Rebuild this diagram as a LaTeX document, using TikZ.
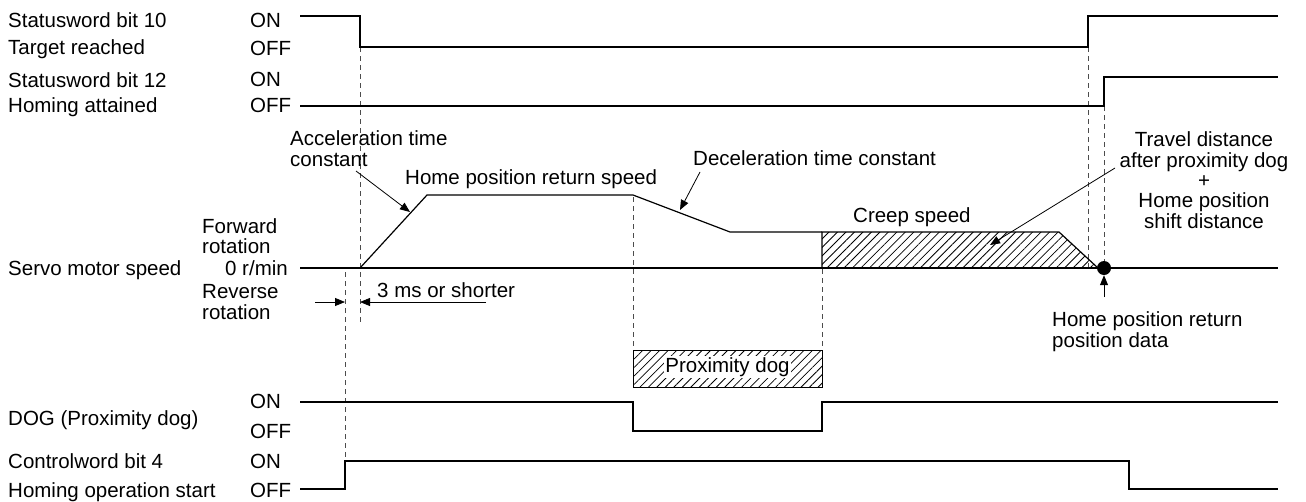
\documentclass[tikz,border=0pt]{standalone}
\usepackage{fontspec}
\setmainfont{Liberation Sans}
\usetikzlibrary{arrows.meta,patterns.meta}

\begin{document}
\begin{tikzpicture}[x=1pt,y=-1pt,
          every node/.style={inner sep=0pt,font=\fontsize{20.5}{20.3}\selectfont},
          lbl/.style={anchor=base west},
          sig/.style={line width=1.2pt,line join=miter},
          guide/.style={line width=0.8pt,dash pattern=on 5pt off 4pt,black!70},
          pointer/.style={-{Triangle[length=10pt,width=8pt]},line width=0.8pt},
          hatch/.style={pattern={Lines[angle=45,distance=6pt,line width=0.8pt]}}
      ]
        \useasboundingbox (0,0) rectangle (1306,501);
        % signal names
        \node[lbl] (sw10) at (8,27)  {Statusword bit 10};
        \node[lbl] (trg)  at (8,54)  {Target reached};
        \node[lbl] (sw12) at (8,87)  {Statusword bit 12};
        \node[lbl] (hatt) at (8,112) {Homing attained};
        \node[lbl] (spd)  at (8,275) {Servo motor speed};
        \node[lbl] (dog)  at (8,425) {DOG (Proximity dog)};
        \node[lbl] (cw4)  at (8,468) {Controlword bit 4};
        \node[lbl] (hos)  at (8,497) {Homing operation start};
        % levels
        \node[lbl] (on1)  at (250,27)  {ON};
        \node[lbl] (off1) at (250,55)  {OFF};
        \node[lbl] (on2)  at (250,86)  {ON};
        \node[lbl] (off2) at (250,112) {OFF};
        \node[lbl] (on3)  at (250,408) {ON};
        \node[lbl] (off3) at (250,438) {OFF};
        \node[lbl] (on4)  at (250,468) {ON};
        \node[lbl] (off4) at (250,497) {OFF};
        \node[lbl] (fwd)  at (202,233) {Forward};
        \node[lbl] (fwd2) at (202,253) {rotation};
        \node[anchor=base east] (zero) at (288,275) {0 r/min};
        \node[lbl] (rev)  at (202,298) {Reverse};
        \node[lbl] (rev2) at (202,319) {rotation};
        % guides
        \draw[guide] (360,47)  -- (360,322);
        \draw[guide] (345,272) -- (345,461);
        \draw[guide] (633,197) -- (633,350);
        \draw[guide] (822,269) -- (822,350);
        \draw[guide] (1088,47) -- (1088,268);
        \draw[guide] (1104,106) -- (1104,262);
        % waveforms
        \draw[sig] (300,16) -- (360,16) -- (360,47) -- (1088,47) -- (1088,16) -- (1278,16);
        \draw[sig] (300,106) -- (1104,106) -- (1104,77) -- (1278,77);
        \draw[sig,hatch] (822,268) -- (822,232) -- (1059,232) -- (1098,268) -- cycle;
        \draw[sig] (300,268) -- (1278,268);
        \draw[sig] (360,268) -- (427,195) -- (633,195) -- (730,232) -- (822,232);
        \draw[sig] (300,402) -- (633,402) -- (633,431) -- (822,431) -- (822,402) -- (1278,402);
        \draw[sig] (300,489) -- (345,489) -- (345,461) -- (1129,461) -- (1129,489) -- (1278,489);
        \node[circle,fill,minimum size=14pt] (home) at (1104,268) {};
        % proximity dog
        \draw[line width=0.9pt,hatch] (633,350) rectangle (822,387);
        \node[fill=white,inner sep=1.5pt,anchor=base] (pdog) at (727.5,372) {Proximity dog};
        % notes
        \node[lbl,align=left] (acc) at (290,166) {Acceleration time\\constant};
        \node[lbl] (hprs)  at (405,184) {Home position return speed};
        \node[lbl] (dec)   at (693,165) {Deceleration time constant};
        \node[lbl] (creep) at (853,222) {Creep speed};
        \node[anchor=base,align=center] (trav) at (1204,228)
             {Travel distance\\after proximity dog\\+\\Home position\\shift distance};
        \node[lbl,align=left] (hpd) at (1052,347) {Home position return\\position data};
        \node[lbl] (tms) at (377,297) {3 ms or shorter};
        \coordinate (accA) at (356,171);  \coordinate (accB) at (410,212);
        \coordinate (decA) at (700,172);  \coordinate (decB) at (680,210);
        \coordinate (travA) at (1115,168); \coordinate (travB) at (990,245);
        \coordinate (hpdA) at (1104,297);
        \coordinate (tmsL) at (315,302);  \coordinate (tmsR) at (486,302);
        \draw[pointer] (accA) -- (accB);
        \draw[pointer] (decA) -- (decB);
        \draw[pointer] (travA) -- (travB);
        \draw[pointer] (hpdA) -- (home.south);
        \draw[pointer] (tmsL) -- (345,302);
        \draw[pointer] (tmsR) -- (360,302);
      \end{tikzpicture}
\end{document}
